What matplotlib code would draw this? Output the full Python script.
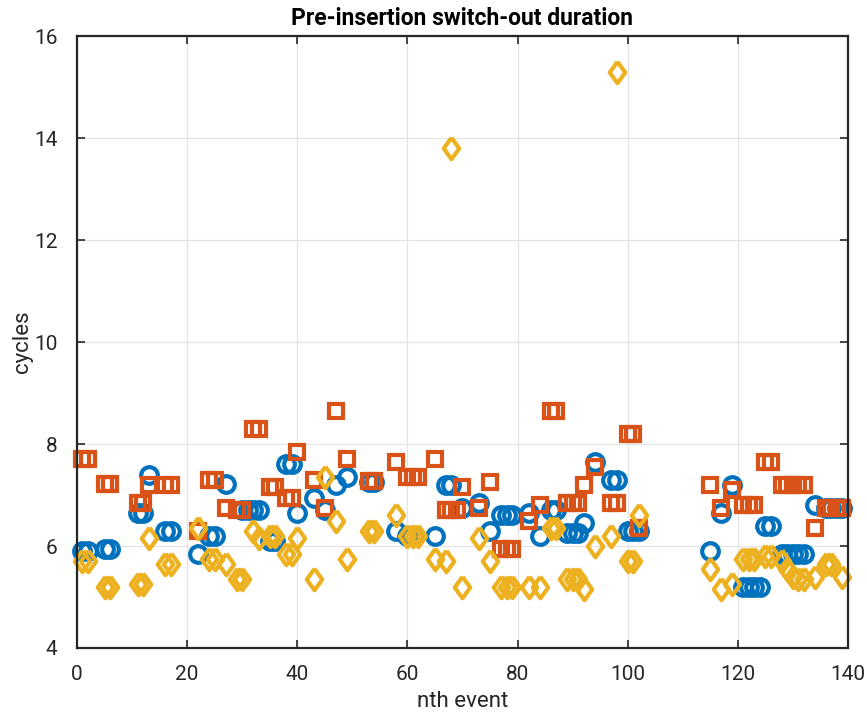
import matplotlib
matplotlib.use("Agg")
import matplotlib.pyplot as plt
from matplotlib import font_manager

# ---- data ----
circ_x = [1, 2, 5, 6, 11, 12, 13, 16, 17, 22, 24, 25, 27, 30, 31, 32, 33, 35, 36,
          38, 39, 40, 43, 45, 47, 49, 53, 54, 58, 60, 61, 65, 67, 68, 70, 73, 75,
          77, 78, 79, 82, 84, 86, 87, 89, 90, 91, 92, 94, 97, 98, 100, 101, 102,
          115, 117, 119, 121, 122, 123, 124, 125, 126, 128, 129, 130, 131, 132,
          134, 136, 137, 138, 139]
circ_y = [5.9, 5.9, 5.95, 5.95, 6.65, 6.65, 7.4, 6.3, 6.3, 5.85, 6.2, 6.2, 7.22,
          6.7, 6.7, 6.7, 6.7, 6.1, 6.1, 7.6, 7.6, 6.65, 6.95, 6.7, 7.2, 7.35,
          7.25, 7.25, 6.3, 6.2, 6.2, 6.2, 7.2, 7.2, 6.75, 6.85, 6.3, 6.6, 6.6,
          6.6, 6.65, 6.2, 6.7, 6.7, 6.25, 6.25, 6.25, 6.45, 7.65, 7.3, 7.3, 6.3,
          6.3, 6.3, 5.9, 6.65, 7.2, 5.2, 5.2, 5.2, 5.2, 6.4, 6.4, 5.85, 5.85,
          5.85, 5.85, 5.85, 6.8, 6.75, 6.75, 6.75, 6.75]

sq_x = [1, 2, 5, 6, 11, 12, 13, 16, 17, 22, 24, 25, 27, 29, 30, 32, 33, 35, 36,
        38, 39, 40, 43, 45, 47, 49, 53, 54, 58, 60, 61, 62, 65, 67, 68, 69, 70,
        73, 75, 77, 78, 79, 82, 84, 86, 87, 89, 90, 91, 92, 94, 97, 98, 100,
        101, 102, 115, 117, 119, 121, 122, 123, 125, 126, 128, 129, 130, 131,
        132, 134, 136, 137, 138, 139]
sq_y = [7.7, 7.7, 7.22, 7.22, 6.85, 6.85, 7.2, 7.2, 7.2, 6.3, 7.3, 7.3, 6.75,
        6.7, 6.7, 8.3, 8.3, 7.15, 7.15, 6.95, 6.95, 7.85, 7.3, 6.75, 8.65, 7.7,
        7.28, 7.28, 7.65, 7.35, 7.35, 7.35, 7.7, 6.7, 6.7, 6.7, 7.15, 6.75,
        7.25, 5.95, 5.95, 5.95, 6.5, 6.8, 8.65, 8.65, 6.85, 6.85, 6.85, 7.2,
        7.55, 6.85, 6.85, 8.2, 8.2, 6.35, 7.2, 6.75, 7.1, 6.8, 6.8, 6.8, 7.65,
        7.65, 7.2, 7.2, 7.2, 7.2, 7.2, 6.35, 6.75, 6.75, 6.75, 6.75]

dia_x = [1, 2, 5, 6, 11, 12, 13, 16, 17, 22, 24, 25, 27, 29, 30, 32, 33, 35, 36,
         38, 39, 40, 43, 45, 47, 49, 53, 54, 58, 60, 61, 62, 65, 67, 68, 70, 73,
         75, 77, 78, 79, 82, 84, 86, 87, 89, 90, 91, 92, 94, 97, 98, 100, 101,
         102, 115, 117, 119, 121, 122, 123, 125, 126, 128, 129, 130, 131, 132,
         134, 136, 137, 139]
dia_y = [5.7, 5.7, 5.2, 5.2, 5.25, 5.25, 6.15, 5.65, 5.65, 6.35, 5.75, 5.75,
         5.65, 5.35, 5.35, 6.3, 6.15, 6.2, 6.2, 5.85, 5.85, 6.15, 5.35, 7.35,
         6.5, 5.75, 6.3, 6.3, 6.6, 6.2, 6.2, 6.2, 5.75, 5.7, 13.8, 5.2, 6.15,
         5.7, 5.2, 5.2, 5.2, 5.2, 5.2, 6.35, 6.35, 5.35, 5.35, 5.35, 5.15, 6.0,
         6.2, 15.3, 5.7, 5.7, 6.6, 5.55, 5.15, 5.25, 5.75, 5.75, 5.75, 5.8, 5.8,
         5.7, 5.55, 5.4, 5.35, 5.35, 5.4, 5.65, 5.65, 5.4]

title = "Pre-insertion switch-out duration"
xlabel = "nth event"
ylabel = "cycles"
xticks = [0, 20, 40, 60, 80, 100, 120, 140]
yticks = [4, 6, 8, 10, 12, 14, 16]

# ---- style ----
avail = {f.name for f in font_manager.fontManager.ttflist}
fam = ["Liberation Sans Narrow"] if "Liberation Sans Narrow" in avail else ["Roboto"]
plt.rcParams["font.family"] = fam + ["DejaVu Sans"]

fig = plt.figure(figsize=(8.67, 7.22), dpi=100)
ax = fig.add_axes([0.0888, 0.1025, 0.8892, 0.8475])

diamond = [(0, 1), (0.72, 0), (0, -1), (-0.72, 0), (0, 1)]
mew = 3.0
ax.plot(circ_x, circ_y, linestyle="none", marker="o", markersize=12,
        markerfacecolor="none", markeredgecolor="#0072BD", markeredgewidth=mew,
        clip_on=False)
ax.plot(sq_x, sq_y, linestyle="none", marker="s", markersize=10.5,
        markerfacecolor="none", markeredgecolor="#D95319", markeredgewidth=mew,
        clip_on=False)
ax.plot(dia_x, dia_y, linestyle="none", marker=diamond, markersize=15.5,
        markerfacecolor="none", markeredgecolor="#EDB120", markeredgewidth=mew,
        clip_on=False)

ax.set_xlim(0, 140)
ax.set_ylim(4, 16)
ax.set_xticks(xticks)
ax.set_yticks(yticks)
ax.grid(True, color="#e3e3e3", linewidth=0.9)
ax.set_axisbelow(True)
ax.tick_params(direction="in", top=True, right=True, length=6, width=1.2,
               labelsize=15, colors="#262626")
ax.tick_params(axis="x", pad=12)
ax.tick_params(axis="y", pad=14)
for s in ax.spines.values():
    s.set_linewidth(1.6)
    s.set_color("#262626")

ax.set_title(title, fontsize=16.5, fontweight="bold", color="black", pad=8)
ax.set_xlabel(xlabel, fontsize=16, color="#262626", labelpad=5)
ax.set_ylabel(ylabel, fontsize=16, color="#262626", labelpad=1)

fig.savefig("out.png", dpi=100)
